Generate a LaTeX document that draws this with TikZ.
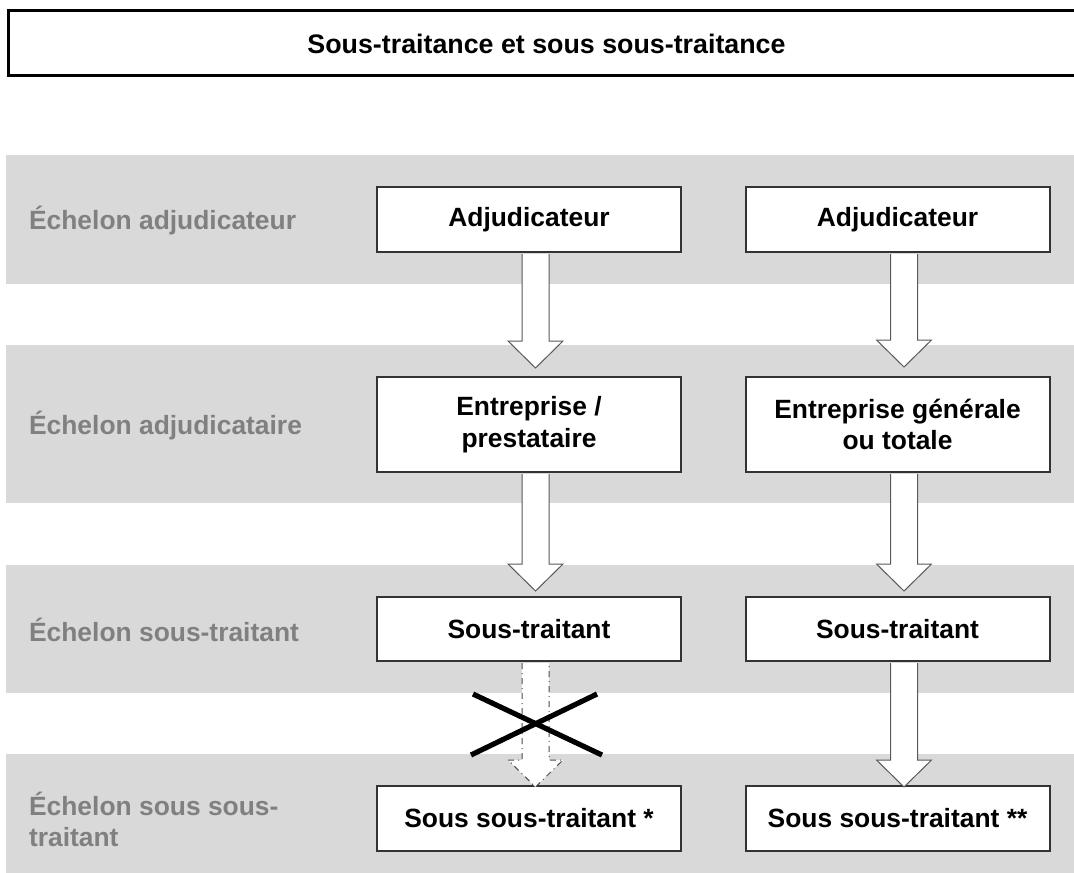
\documentclass[tikz,border=0pt]{standalone}
\usepackage{fontspec}
\setmainfont{Liberation Sans}
\usetikzlibrary{calc}

\tikzset{
  band/.style={fill=black!15},
  level/.style={anchor=west,text=black!50,align=left,
    font=\bfseries\fontsize{13.2}{15.5}\selectfont},
  stage/.style={draw=black!80,line width=1pt,fill=white,
    minimum width=152pt,align=center,
    font=\bfseries\fontsize{13.2}{15.8}\selectfont},
  hollow/.style={draw=black!65,line width=0.5pt,fill=white},
  barred/.style={hollow,draw=black!70,dash dot},
}

% block arrow: [style]{from}{to}{gap at the tip}
\newcommand{\hollowarrow}[4][]{%
  \draw[hollow,#1] let \p1=($(#2.south)+(6.5,1)$), \p2=($(#3.north)+(6.5,#4)$) in
    (\x1-6.75pt,\y1) -- (\x1-6.75pt,\y2+13.5pt) -- (\x1-13.75pt,\y2+13.5pt)
    -- (\x1,\y2) -- (\x1+13.75pt,\y2+13.5pt) -- (\x1+6.75pt,\y2+13.5pt)
    -- (\x1+6.75pt,\y1);}

\begin{document}
\begin{tikzpicture}[x=0.5pt,y=-0.5pt]
  \clip (0,0) rectangle (1074,872);

  % title
  \node[draw,line width=1.5pt,minimum width=538.5pt,minimum height=32.5pt,
    font=\bfseries\fontsize{13.4}{16}\selectfont] (title) at (546.5,43.5)
    {Sous-traitance et sous sous-traitance};

  % the four levels
  \fill[band] (6,155) rectangle (1080,284);
  \fill[band] (6,345) rectangle (1080,503);
  \fill[band] (6,565) rectangle (1080,693);
  \fill[band] (6,754) rectangle (1080,882);

  \node[level] (lvlA) at (22,220.5) {Échelon adjudicateur};
  \node[level] (lvlB) at (22,425.5) {Échelon adjudicataire};
  \node[level] (lvlC) at (22,630) {Échelon sous-traitant};
  \node[level] (lvlD) at (22,819) {Échelon sous sous-\\traitant};

  % boxes
  \node[stage,minimum height=32.5pt] (adjA) at (529,219.5) {Adjudicateur};
  \node[stage,minimum height=32.5pt] (adjB) at (897.5,219.5) {Adjudicateur};
  \node[stage,minimum height=47.5pt] (entA) at (529,424.5) {Entreprise /\\prestataire};
  \node[stage,minimum height=47.5pt] (entB) at (897.5,424.5) {Entreprise générale\\ou totale};
  \node[stage,minimum height=32pt] (stA) at (529,629) {Sous-traitant};
  \node[stage,minimum height=32pt] (stB) at (897.5,629) {Sous-traitant};
  \node[stage,minimum height=32.5pt] (sstA) at (529,818.5) {Sous sous-traitant *};
  \node[stage,minimum height=32.5pt] (sstB) at (897.5,818.5) {Sous sous-traitant **};

  % arrows
  \hollowarrow{adjA}{entA}{-8}
  \hollowarrow{adjB}{entB}{-9}
  \hollowarrow{entA}{stA}{-5}
  \hollowarrow{entB}{stB}{-5}
  \hollowarrow[barred]{stA}{sstA}{2}
  \hollowarrow{stB}{sstB}{2}

  % not allowed
  \draw[line width=2.6pt] (473,694) -- (602,755);
  \draw[line width=2.6pt] (471,755) -- (597,694);
\end{tikzpicture}
\end{document}
